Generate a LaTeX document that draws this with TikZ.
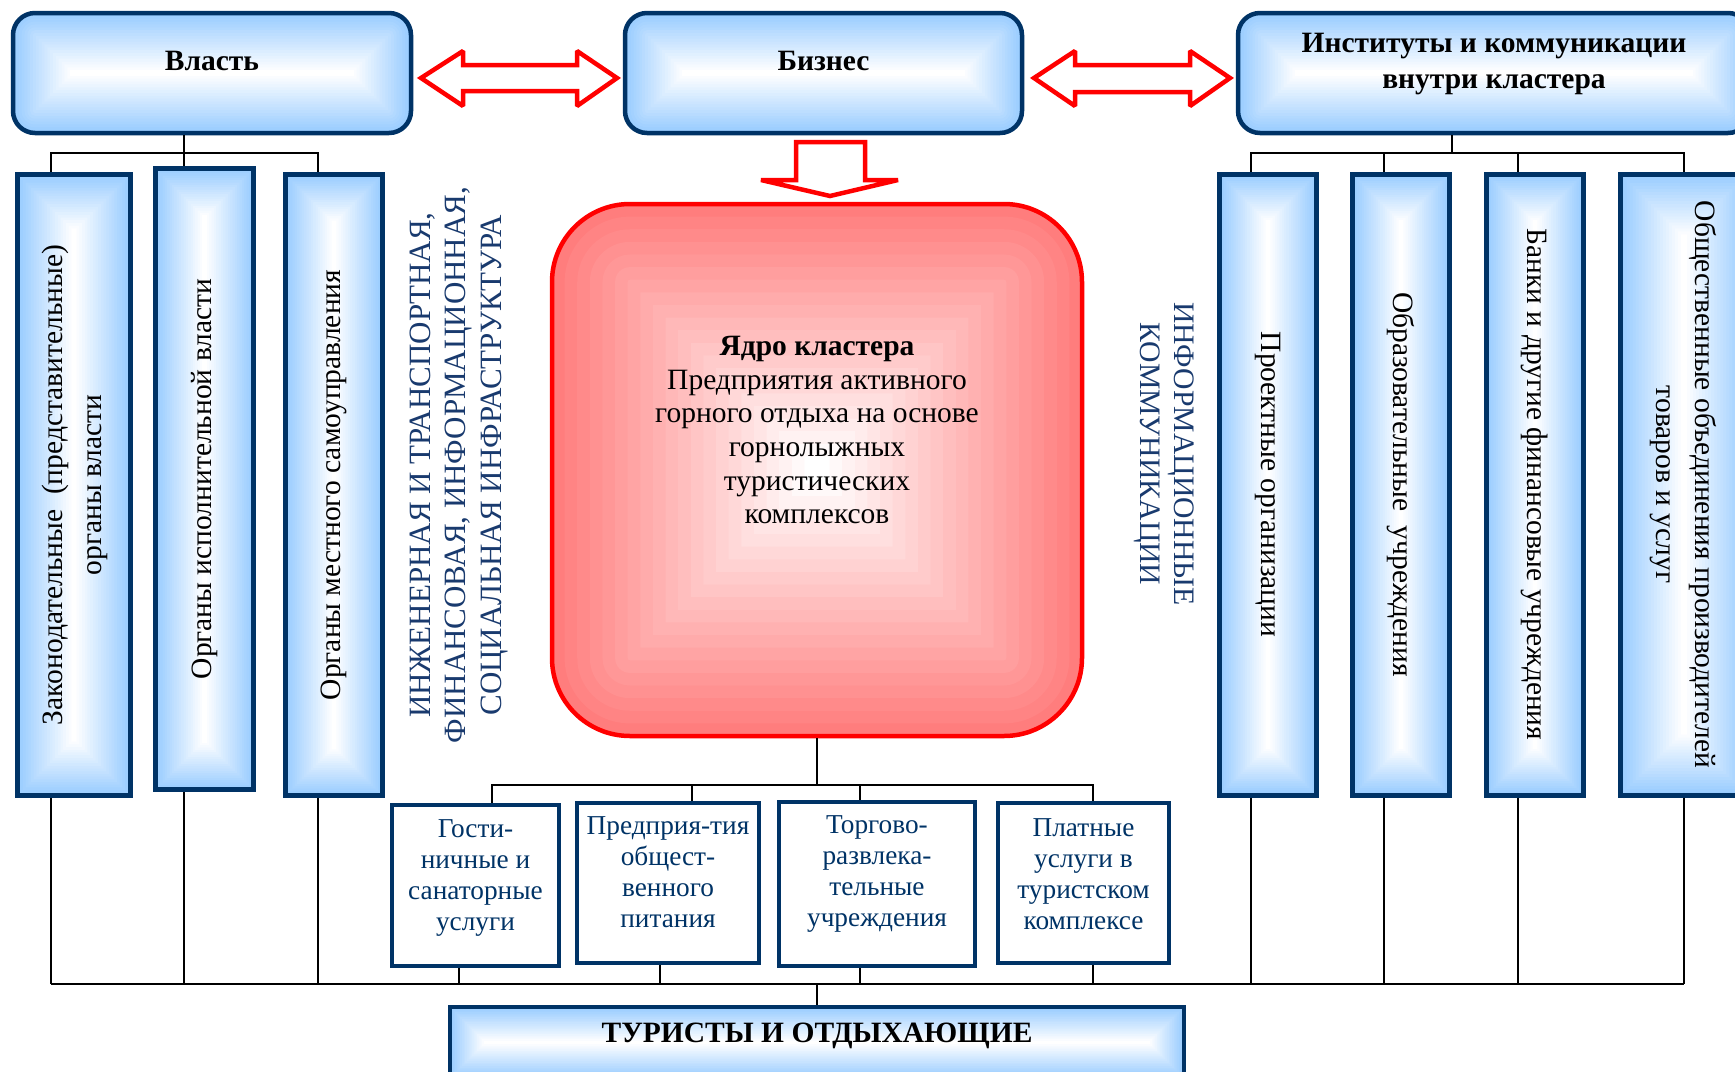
\documentclass[tikz,border=0pt]{standalone}
\usepackage{fontspec}
\setmainfont{Liberation Serif}
\usepackage{graphicx}
\usetikzlibrary{calc}

\definecolor{navy}{RGB}{0,51,102}
\definecolor{sky}{RGB}{153,204,255}
\definecolor{rose}{RGB}{255,125,125}
\definecolor{inkblue}{RGB}{25,58,110}

\newcommand{\stack}[1]{\begin{tabular}{@{}c@{}}#1\end{tabular}}
\newcommand{\lift}[2]{\raisebox{#1}[\height][\depth]{#2}}

\begin{document}
\begin{tikzpicture}[x=1pt,y=-1pt,
  softfill/.style 2 args={path picture={
    \foreach \k [evaluate=\k as \pc using int(100-5*\k)] in {0,...,20}{
      \fill[#1!\pc!white] let \p1=(path picture bounding box.south west),
        \p2=(path picture bounding box.north east),
        \n1={min(\x2-\x1,\y2-\y1)*\k/42},
        \n2={max(#2-\n1,0.1)} in
        [rounded corners=\n2] (\x1+\n1,\y1+\n1) rectangle (\x2-\n1,\y2-\n1);
    }}},
  topbox/.style={draw=navy,line width=4.5pt,rounded corners=22pt,softfill={sky}{22},
    minimum height=120pt,inner sep=0pt,font=\fontsize{29.5}{35.5}\selectfont\bfseries},
  colbox/.style={draw=navy,line width=5pt,softfill={sky}{0},minimum height=621pt,
    inner sep=0pt,font=\fontsize{29.5}{39}\selectfont},
  servbox/.style={draw=navy,line width=4.5pt,fill=white,inner sep=0pt,text=navy,
    font=\fontsize{27.3}{31}\selectfont},
  sidetext/.style={text=inkblue,align=center},
  link/.style={line width=1.3pt,black},
  redarrow/.style={draw=red,line width=4.5pt,fill=white,line join=miter,miter limit=2}]

  \useasboundingbox (0,0) rectangle (1735,1071);
  \clip (0,0) rectangle (1735,1071);

  % top level
  \node[topbox,minimum width=398pt] (vlast) at (212,73) {\lift{12pt}{Власть}};
  \node[topbox,minimum width=397pt] (biz) at (823.5,73) {\lift{12pt}{Бизнес}};
  \node[topbox,minimum width=512pt] (inst) at (1494,73)
    {\lift{9.5pt}{\stack{Институты и коммуникации\\внутри кластера}}};

  % arrows between the top boxes
  \draw[redarrow] (421,78) -- (463,51) -- (463,65) -- (577,65) -- (577,51) -- (617,78)
    -- (577,106) -- (577,91) -- (463,91) -- (463,106) -- cycle;
  \draw[redarrow] (1034,78) -- (1075,51) -- (1075,65) -- (1190,65) -- (1190,51) -- (1230,78)
    -- (1190,106) -- (1190,92) -- (1075,92) -- (1075,106) -- cycle;
  \draw[redarrow] (796,142) -- (865,142) -- (865,180) -- (898,180) -- (830,196)
    -- (761,180) -- (796,180) -- cycle;

  % columns of the authorities
  \node[colbox,minimum width=113pt] (L1) at (74,485)
    {\rotatebox{90}{\stack{Законодательные~ (представительные)\\органы власти}}};
  \node[colbox,minimum width=98pt] (L2) at (204.5,479)
    {\rotatebox{90}{Органы исполнительной власти}};
  \node[colbox,minimum width=97pt] (L3) at (334,485)
    {\rotatebox{90}{Органы местного самоуправления}};

  % columns of the institutions
  \node[colbox,minimum width=97pt] (R1) at (1268,484.5)
    {\rotatebox{-90}{Проектные организации}};
  \node[colbox,minimum width=97pt] (R2) at (1401,484.5)
    {\rotatebox{-90}{Образовательные~ учреждения}};
  \node[colbox,minimum width=97pt] (R3) at (1535,484.5)
    {\rotatebox{-90}{Банки и другие финансовые учреждения}};
  \node[colbox,minimum width=127pt] (R4) at (1684,484.5)
    {\rotatebox{-90}{\stack{Общественные объединения производителей\\товаров и услуг}}};

  \node[sidetext,rotate=90,font=\fontsize{31}{35.4}\selectfont] (infra) at (459,465)
    {ИНЖЕНЕРНАЯ И ТРАНСПОРТНАЯ,\\ФИНАНСОВАЯ, ИНФОРМАЦИОННАЯ,\\СОЦИАЛЬНАЯ ИНФРАСТРУКТУРА};
  \node[sidetext,rotate=-90,font=\fontsize{29.7}{34.5}\selectfont] (info) at (1164,454)
    {ИНФОРМАЦИОННЫЕ\\КОММУНИКАЦИИ};

  % core of the cluster
  \node[draw=red,line width=4.5pt,rounded corners=78pt,softfill={rose}{78},
    minimum width=530pt,minimum height=532pt,inner sep=0pt,
    font=\fontsize{29.5}{33.7}\selectfont] (core) at (817,470)
    {\lift{37pt}{\stack{\textbf{Ядро кластера}\\Предприятия активного\\горного отдыха на основе\\горнолыжных\\туристических\\комплексов}}};

  % services
  \node[servbox,minimum width=167pt,minimum height=161pt] (B1) at (475.5,885.5)
    {\lift{8pt}{\stack{Гости-\\ничные и\\санаторные\\услуги}}};
  \node[servbox,minimum width=182pt,minimum height=160pt] (B2) at (668,883)
    {\lift{8pt}{\stack{Предприя-тия\\общест-\\венного\\питания}}};
  \node[servbox,minimum width=196pt,minimum height=164pt] (B3) at (877,884)
    {\lift{10pt}{\stack{Торгово-\\развлека-\\тельные\\учреждения}}};
  \node[servbox,minimum width=171pt,minimum height=160pt] (B4) at (1083.5,883)
    {\lift{6pt}{\stack{Платные\\услуги в\\туристском\\комплексе}}};

  \node[draw=navy,line width=4.5pt,softfill={sky}{0},minimum width=734pt,minimum height=71pt,
    inner sep=0pt,font=\fontsize{29.5}{34}\selectfont\bfseries] (tour) at (817,1042.5)
    {\lift{7pt}{ТУРИСТЫ И ОТДЫХАЮЩИЕ}};

  % tap points
  \coordinate (vj) at (184,153);
  \coordinate (ij) at (1452,153);
  \coordinate (kj) at (817,785);
  \coordinate (c1) at (51,984);
  \coordinate (c2) at (184,984);
  \coordinate (c3) at (318,984);
  \coordinate (c4) at (1251,984);
  \coordinate (c5) at (1384,984);
  \coordinate (c6) at (1518,984);
  \coordinate (c7) at (1684,984);
  \coordinate (d1) at (492,785);
  \coordinate (d2) at (692,785);
  \coordinate (d3) at (860,785);
  \coordinate (d4) at (1093,785);
  \coordinate (e1) at (459,984);
  \coordinate (e2) at (660,984);
  \coordinate (e4) at (1093,984);
  \coordinate (bus) at (817,984);

  % connectors
  \draw[link] (vlast.south -| vj) -- (L2.north -| vj);
  \draw[link] (L1.north -| c1) |- (vj) -| (L3.north -| c3);
  \draw[link] (inst.south -| ij) -- (ij);
  \draw[link] (R1.north -| c4) |- (ij) -| (R4.north -| c7);
  \draw[link] (c5 |- ij) -- (R2.north -| c5);
  \draw[link] (c6 |- ij) -- (R3.north -| c6);
  \draw[link] (core.south) -- (kj);
  \draw[link] (B1.north -| d1) |- (kj) -| (B4.north -| d4);
  \draw[link] (d2) -- (B2.north -| d2);
  \draw[link] (d3) -- (B3.north -| d3);
  \foreach \b/\c in {L1/c1,L2/c2,L3/c3,R1/c4,R2/c5,R3/c6,R4/c7,B1/e1,B2/e2,B4/e4}
    \draw[link] (\b.south -| \c) -- (\c);
  \draw[link] (B3.south -| d3) -- (bus -| d3);
  \draw[link] (c1) -- (c7);
  \draw[link] (bus) -- (tour.north);
\end{tikzpicture}
\end{document}
